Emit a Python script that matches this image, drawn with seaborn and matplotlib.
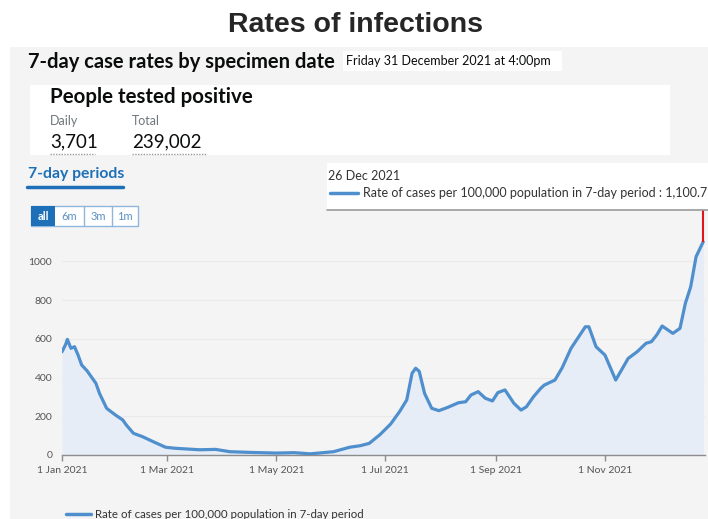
import matplotlib
matplotlib.use("Agg")
import matplotlib.pyplot as plt
from matplotlib.patches import Rectangle
from matplotlib.lines import Line2D
import seaborn as sns
import pandas as pd

# 7-day case rate per 100,000
dates = ['2021-01-01', '2021-01-03', '2021-01-04', '2021-01-06', '2021-01-08', '2021-01-10',
         '2021-01-12', '2021-01-15', '2021-01-20', '2021-01-22', '2021-01-26', '2021-01-31',
         '2021-02-04', '2021-02-06', '2021-02-10', '2021-02-15', '2021-02-21', '2021-02-28',
         '2021-03-05', '2021-03-19', '2021-03-28', '2021-04-05', '2021-04-18', '2021-05-01',
         '2021-05-11', '2021-05-20', '2021-06-02', '2021-06-11', '2021-06-17', '2021-06-22',
         '2021-06-28', '2021-07-04', '2021-07-09', '2021-07-13', '2021-07-16', '2021-07-18',
         '2021-07-20', '2021-07-23', '2021-07-27', '2021-07-31', '2021-08-05', '2021-08-11',
         '2021-08-15', '2021-08-18', '2021-08-22', '2021-08-26', '2021-08-30', '2021-09-02',
         '2021-09-06', '2021-09-11', '2021-09-15', '2021-09-18', '2021-09-22', '2021-09-26',
         '2021-09-28', '2021-10-04', '2021-10-08', '2021-10-13', '2021-10-21', '2021-10-23',
         '2021-10-27', '2021-11-01', '2021-11-07', '2021-11-14', '2021-11-19', '2021-11-24',
         '2021-11-27', '2021-11-30', '2021-12-03', '2021-12-09', '2021-12-13', '2021-12-16',
         '2021-12-19', '2021-12-22', '2021-12-26']
rates = [533, 570, 597, 551, 559, 516,
         465, 435, 370, 318, 241, 206,
         181, 155, 112, 95, 69, 40,
         35, 27, 29, 17, 13, 10,
         12, 6, 17, 40, 48, 60,
         105, 160, 224, 284, 422, 448,
         432, 318, 241, 229, 246, 270,
         275, 310, 327, 293, 279, 322,
         336, 267, 232, 249, 301, 344,
         361, 387, 450, 551, 662, 662,
         559, 516, 387, 499, 533, 577,
         585, 620, 666, 628, 654, 783,
         869, 1024, 1100.7]

tick_dates = ['2021-01-01', '2021-03-01', '2021-05-01', '2021-07-01', '2021-09-01', '2021-11-01']
tick_labels = ['1 Jan 2021', '1 Mar 2021', '1 May 2021', '1 Jul 2021', '1 Sep 2021', '1 Nov 2021']
y_ticks = [0, 200, 400, 600, 800, 1000]

daily_cases = '3,701'
total_cases = '239,002'
latest_label = '26 Dec 2021'
latest_value = '1,100.7'
series_name = 'Rate of cases per 100,000 population in 7-day period'

W, H = 708, 519
BLUE = '#1d70b8'
LINE = '#4f8fcd'
FILL = '#e6edf6'
GREY_TXT = '#6f777b'
FONT = ['Lato', 'DejaVu Sans']


def fx(x):
    return x / W


def fy(y):
    return 1 - y / H


def rect(fig, x0, y0, x1, y1, **kw):
    r = Rectangle((fx(x0), fy(y1)), fx(x1 - x0), (y1 - y0) / H,
                  transform=fig.transFigure, **kw)
    fig.add_artist(r)
    return r


def text(fig, x, y, s, **kw):
    kw.setdefault('family', FONT)
    fig.text(fx(x), fy(y), s, **kw)


def hline(fig, x0, x1, y, **kw):
    fig.add_artist(Line2D([fx(x0), fx(x1)], [fy(y), fy(y)], transform=fig.transFigure, **kw))


def main():
    sns.set_theme(style="white")
    plt.rcParams['font.family'] = FONT

    df = pd.DataFrame({'date': pd.to_datetime(dates), 'rate': rates})

    fig = plt.figure(figsize=(W / 100, H / 100), dpi=100)
    fig.patch.set_facecolor('white')

    # grey dashboard panel
    rect(fig, 10, 47, 708, 519, facecolor='#f4f4f4', edgecolor='none', zorder=0)

    fig.text(fx(356), fy(25), 'Rates of infections', ha='center', va='center',
             fontsize=20.5, fontweight='bold', family=['Liberation Sans', 'DejaVu Sans'])

    text(fig, 28, 62, '7-day case rates by specimen date', fontsize=14.5, fontweight='bold',
         va='center', color='#0b0c0c')
    rect(fig, 343, 51, 562, 71, facecolor='white', edgecolor='none', zorder=1)
    text(fig, 346, 61, 'Friday 31 December 2021 at 4:00pm', fontsize=9, va='center',
         color='#0b0c0c', zorder=2)

    # headline box
    rect(fig, 30, 85, 670, 155, facecolor='white', edgecolor='none', zorder=1)
    text(fig, 50, 97, 'People tested positive', fontsize=14.8, fontweight='bold',
         va='center', color='#0b0c0c', zorder=2)
    text(fig, 50, 121, 'Daily', fontsize=9, va='center', color=GREY_TXT, zorder=2)
    text(fig, 132, 121, 'Total', fontsize=9, va='center', color=GREY_TXT, zorder=2)
    text(fig, 50, 142, daily_cases, fontsize=13.5, va='center', color='#0b0c0c', zorder=2)
    text(fig, 132, 142, total_cases, fontsize=13.5, va='center', color='#0b0c0c', zorder=2)
    hline(fig, 50, 95, 154, color='#9a9a9a', lw=1, ls=(0, (1, 1)), zorder=2)
    hline(fig, 132, 207, 154, color='#9a9a9a', lw=1, ls=(0, (1, 1)), zorder=2)

    # tab + range buttons
    text(fig, 28, 174, '7-day periods', fontsize=11.3, fontweight='bold', va='center', color=BLUE)
    hline(fig, 27, 123, 187, color=BLUE, lw=2.5)
    rect(fig, 31, 206, 138, 226, facecolor='white', edgecolor='#8fb6dc', lw=1, zorder=1)
    rect(fig, 31, 206, 55, 226, facecolor=BLUE, edgecolor='none', zorder=2)
    for xd in [84, 112]:
        fig.add_artist(Line2D([fx(xd), fx(xd)], [fy(206), fy(226)], color='#8fb6dc', lw=1,
                              transform=fig.transFigure, zorder=2))
    for xc, lab in zip([43, 69.5, 98, 125], ['all', '6m', '3m', '1m']):
        text(fig, xc, 216, lab, fontsize=8, ha='center', va='center', zorder=3,
             color='white' if lab == 'all' else '#5a8fc4',
             fontweight='bold' if lab == 'all' else 'normal')

    # chart
    ax = fig.add_axes([fx(62), fy(455), fx(705 - 62), (455 - 210) / H])
    ax.set_facecolor('none')
    ax.fill_between(df['date'], df['rate'], 0, color=FILL, lw=0, zorder=1)
    sns.lineplot(data=df, x='date', y='rate', ax=ax, color=LINE, linewidth=2.3, zorder=3)
    ax.vlines(df['date'].iloc[-1], df['rate'].iloc[-1], 1265, color='#e1141c', lw=1.5, zorder=4)

    ax.set_xlim(pd.Timestamp('2021-01-01'), pd.Timestamp('2021-12-27'))
    ax.set_ylim(0, 1265)
    ax.set_xticks(pd.to_datetime(tick_dates))
    ax.set_xticklabels(tick_labels)
    ax.set_yticks(y_ticks)
    ax.set_yticklabels([str(v) for v in y_ticks])
    ax.set_xlabel('')
    ax.set_ylabel('')
    for g in y_ticks[1:]:
        ax.axhline(g, color='#e9e9e9', lw=0.8, zorder=0)
    for s in ['top', 'right', 'left']:
        ax.spines[s].set_visible(False)
    ax.spines['bottom'].set_color('#8c8c8c')
    ax.spines['bottom'].set_linewidth(1)
    ax.tick_params(axis='x', direction='out', length=4, width=1, color='#8c8c8c',
                   labelsize=7.5, labelcolor='#555555', pad=4, bottom=True)
    ax.tick_params(axis='y', length=0, labelsize=7.5, labelcolor='#555555', pad=7)

    # tooltip
    rect(fig, 327, 163, 708, 210, facecolor='white', edgecolor='none', zorder=5)
    hline(fig, 327, 708, 210, color='#9a9a9a', lw=1.2, zorder=6)
    text(fig, 328, 176, latest_label, fontsize=9, va='center', color='#333333', zorder=6)
    hline(fig, 330, 358, 193, color=LINE, lw=2.5, zorder=6)
    text(fig, 363, 193, series_name + ' : ' + latest_value, fontsize=9, va='center',
         color='#333333', zorder=6)

    # legend at bottom
    hline(fig, 66, 91, 514, color=LINE, lw=2.5, zorder=6)
    text(fig, 95, 514, series_name, fontsize=8.3, va='center', color='#333333', zorder=6)

    fig.savefig('out.png', dpi=100)


if __name__ == '__main__':
    main()
